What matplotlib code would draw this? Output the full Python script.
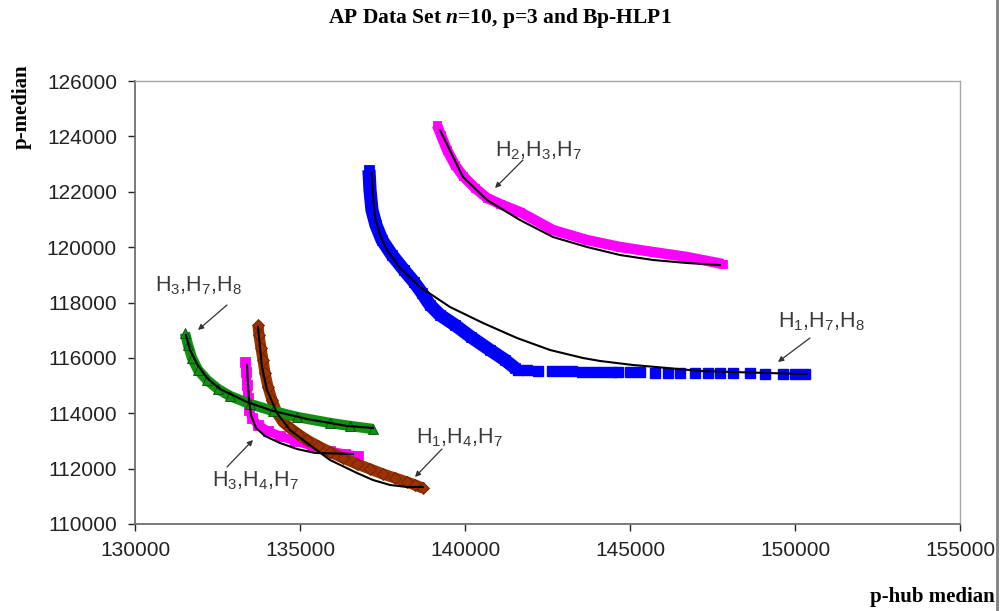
import numpy as np
import matplotlib
matplotlib.use("Agg")
import matplotlib.pyplot as plt
from matplotlib.lines import Line2D

plt.rcParams['font.family'] = ['Liberation Sans', 'DejaVu Sans']
plt.rcParams['mathtext.fontset'] = 'custom'
plt.rcParams['mathtext.rm'] = 'Liberation Sans'
plt.rcParams['mathtext.it'] = 'Liberation Serif:italic:bold'
plt.rcParams['mathtext.default'] = 'regular'

# H2,H3,H7 solutions and fitted curve
h237_x = [139151, 139272, 139454, 139697, 139939, 140303, 140666, 141060, 141666,
          142665, 143696, 144696, 145695, 146726, 147816]
h237_y = [124412, 124051, 123509, 122967, 122570, 122136, 121775, 121558, 121269,
          120619, 120258, 120005, 119825, 119644, 119391]
h237_fit_x = [139242, 139939, 140666, 141666, 142665, 143696, 144696, 145695, 146726, 147726]
h237_fit_y = [124231, 122534, 121703, 120980, 120366, 120005, 119716, 119536, 119427, 119355]

# H1,H7,H8 solutions (steep part + sparse tail) and fitted curve
h178_x = [137090, 137121, 137181, 137302, 137484, 137787, 138151, 138454, 138696, 138939,
          139242, 139696, 140181, 140757, 141211, 141514]
h178_y = [122786, 122064, 121342, 120800, 120258, 119716, 119174, 118741, 118344, 117910,
          117549, 117188, 116754, 116285, 115924, 115635]
h178_tail_x = [141605, 141878, 142211, 142635, 142938, 143241, 143545, 143848, 144151, 144454,
               144635, 144999, 145302, 145756, 146150, 146514, 146968, 147362, 147726, 148119,
               148634, 149089, 149634, 149998, 150301]
h178_tail_y = [115563, 115563, 115526, 115526, 115526, 115526, 115490, 115490, 115490, 115490,
               115490, 115490, 115490, 115454, 115454, 115454, 115454, 115454, 115454, 115454,
               115454, 115418, 115418, 115418, 115418]
h178_fit_x = [137181, 137211, 137272, 137424, 137636, 138030, 138636, 139545, 140545, 141575,
              142575, 143574, 144090, 145089, 146120, 147120, 148119, 149150, 150362]
h178_fit_y = [122678, 121883, 121089, 120439, 119897, 119247, 118560, 117838, 117260, 116718,
              116285, 115996, 115888, 115743, 115635, 115526, 115490, 115454, 115418]

# H3,H7,H8
h378_x = [131515, 131606, 131727, 131909, 132182, 132515, 132879, 133485, 134181, 134909,
          135909, 136515, 137211]
h378_y = [116899, 116465, 115996, 115562, 115201, 114876, 114623, 114334, 114082, 113865,
          113648, 113540, 113431]
h378_fit_x = [131545, 131667, 131879, 132182, 132576, 133394, 134181, 135212, 136424, 137211]
h378_fit_y = [116827, 116285, 115779, 115274, 114876, 114407, 114082, 113793, 113540, 113468]

# H3,H4,H7
h347_x = [133333, 133363, 133394, 133424, 133454, 133545, 133727, 134030, 134394, 134848,
          135363, 135909, 136363, 136757]
h347_y = [115851, 115490, 115021, 114551, 114118, 113829, 113576, 113359, 113179, 112998,
          112817, 112637, 112528, 112456]
h347_fit_x = [133394, 133424, 133454, 133515, 133666, 133939, 134394, 134909, 135454, 136605]
h347_fit_y = [115743, 115021, 114479, 113937, 113468, 113179, 112926, 112709, 112565, 112528]

# H1,H4,H7
h147_x = [133727, 133757, 133818, 133878, 133939, 134030, 134151, 134303, 134484, 134697,
          134939, 135212, 135545, 135909, 136302, 136727, 137121, 137514, 137878, 138242,
          138484, 138726]
h147_y = [117188, 116827, 116357, 115924, 115454, 114948, 114479, 114009, 113684, 113468,
          113251, 113034, 112817, 112601, 112384, 112167, 111987, 111806, 111661, 111517,
          111409, 111300]
h147_fit_x = [133727, 133848, 133999, 134303, 134697, 135212, 135909, 136727, 137211, 137727,
              138242, 138726]
h147_fit_y = [117116, 115671, 114840, 114009, 113395, 112926, 112312, 111842, 111589, 111409,
              111336, 111336]

x_ticks = [130000, 135000, 140000, 145000, 150000, 155000]
y_ticks = [110000, 112000, 114000, 116000, 118000, 120000, 122000, 124000, 126000]

# label text, text anchor (left, centre), arrow tail, arrow tip
label_text = ['H$_2$,H$_3$,H$_7$', 'H$_1$,H$_7$,H$_8$', 'H$_3$,H$_7$,H$_8$',
              'H$_3$,H$_4$,H$_7$', 'H$_1$,H$_4$,H$_7$']
label_pos = [(140909, 123470), (149483, 117300), (130606, 118600),
             (132333, 111560), (138514, 113100)]
arrow_tail = [(141757, 123148), (150453, 116718), (132788, 117910),
              (132788, 112059), (139302, 112709)]
arrow_tip = [(140909, 122136), (149483, 115851), (131909, 117007),
             (133575, 113034), (138484, 111698)]

fig = plt.figure(figsize=(10, 6.11), dpi=100)
ax = fig.add_axes([0.135, 0.1424, 0.825, 0.725])


def band(x, y, color, edge, marker='s', ms=5.5, lw=7):
    ax.plot(x, y, color=color, lw=lw, solid_capstyle='butt', solid_joinstyle='round', zorder=2)
    ax.plot(x, y, ls='none', marker=marker, ms=ms, color=color,
            markeredgecolor=edge, markeredgewidth=0.6, zorder=2)


band(h237_x, h237_y, '#ff00ff', '#ff00ff', lw=7.5, ms=6)
band(h178_x, h178_y, '#0000ff', '#0000ff', lw=9.5, ms=7)
ax.plot(h178_tail_x, h178_tail_y, ls='none', marker='s', ms=7, color='#0000ff', zorder=2)
band(h347_x, h347_y, '#ff00ff', '#ff00ff', lw=6.5, ms=6.5)
band(h147_x, h147_y, '#993300', '#6b2000', marker='D', ms=6, lw=8)
band(h378_x, h378_y, '#129012', '#0a4a0a', marker='^', ms=6.5, lw=7.5)

for fx, fy in [(h237_fit_x, h237_fit_y), (h178_fit_x, h178_fit_y), (h378_fit_x, h378_fit_y),
               (h347_fit_x, h347_fit_y), (h147_fit_x, h147_fit_y)]:
    ax.plot(fx, fy, color='black', lw=1.5, zorder=3)

ax.set_xlim(130000, 155000)
ax.set_ylim(110000, 126000)
ax.set_xticks(x_ticks)
ax.set_yticks(y_ticks)
ax.tick_params(labelsize=15, colors='#222222', length=5, width=1, direction='out')
ax.tick_params(axis='x', pad=7)
ax.tick_params(axis='y', pad=8)
for s in ['left', 'bottom']:
    ax.spines[s].set_color('#707070')
    ax.spines[s].set_linewidth(1.3)
for s in ['top', 'right']:
    ax.spines[s].set_color('#a8a8a8')
    ax.spines[s].set_linewidth(1)

# curve labels with arrows
arrow = dict(arrowstyle='-|>', color='#333333', lw=0.9, mutation_scale=8, shrinkA=0, shrinkB=0)
for txt, tp, tail, tip in zip(label_text, label_pos, arrow_tail, arrow_tip):
    ax.annotate('', xy=tip, xytext=tail, arrowprops=arrow, zorder=4)
    ax.text(tp[0], tp[1], txt, fontsize=15.5, color='#3a3a3a', ha='left', va='center', zorder=4)

fig.text(0.5, 0.97, 'AP Data Set $\\mathit{n}$=10, p=3 and Bp-HLP1', ha='center', va='center',
         fontsize=15.5, fontweight='bold', family='Liberation Serif')
fig.text(0.022, 0.825, 'p-median', rotation=90, ha='center', va='center',
         fontsize=15, fontweight='bold', family='Liberation Serif')
fig.text(0.995, 0.023, 'p-hub median', ha='right', va='center',
         fontsize=15, fontweight='bold', family='Liberation Serif')

# frame line along the right edge
fig.add_artist(Line2D([0.997, 0.997], [0, 1], transform=fig.transFigure, color='#808080', lw=2))

fig.savefig('out.png', dpi=100)
